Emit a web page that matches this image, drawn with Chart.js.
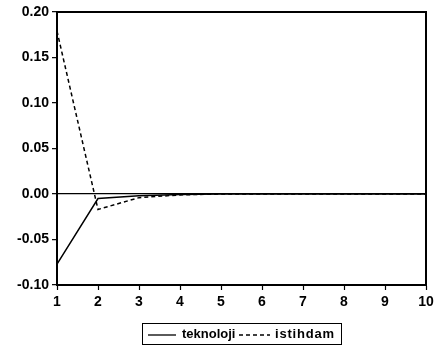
<!DOCTYPE html>
<html>
<head>
<meta charset="utf-8">
<script src="https://cdn.jsdelivr.net/npm/chart.js@4.4.1/dist/chart.umd.min.js"></script>
<style>
  html, body { margin: 0; padding: 0; background: #fff; }
  #wrap { position: relative; width: 441px; height: 355px; }
  #legend {
    position: absolute; left: 142px; top: 323px; width: 200px; height: 22px;
    border: 1.5px solid #000; box-sizing: border-box;
    font: bold 13px "Liberation Sans", Arial, sans-serif; color: #000;
  }
  #legend svg { position: absolute; left: 0; top: 0; }
  #legend span { position: absolute; top: 1px; line-height: 17px; }
</style>
</head>
<body>
<div id="wrap">
  <canvas id="c" width="441" height="355"></canvas>
  <div id="legend">
    <svg width="200" height="22">
      <line x1="5" y1="11" x2="33" y2="11" stroke="#000" stroke-width="1.3"/>
      <line x1="96" y1="11" x2="127" y2="11" stroke="#000" stroke-width="1.3" stroke-dasharray="4,3"/>
    </svg>
    <span id="l1" style="left:39px">teknoloji</span>
    <span id="l2" style="left:132px; letter-spacing:0.8px">istihdam</span>
  </div>
</div>
<script>
const categories = ["1", "2", "3", "4", "5", "6", "7", "8", "9", "10"];
const seriesNames = ["teknoloji", "istihdam"];
const teknoloji = [-0.077, -0.005, -0.002, -0.0005, 0, 0, 0, 0, 0, 0];
const istihdam  = [0.179, -0.017, -0.004, -0.001, 0, 0, 0, 0, 0, 0];
const yTicks = [-0.10, -0.05, 0.00, 0.05, 0.10, 0.15, 0.20];

const frame = {
  id: 'frame',
  afterDraw(chart) {
    const a = chart.chartArea, ctx = chart.ctx;
    ctx.save();
    ctx.strokeStyle = '#000';
    ctx.lineWidth = 2;
    ctx.strokeRect(a.left, a.top, a.right - a.left, a.bottom - a.top);
    ctx.restore();
  }
};

const font = { family: '"Liberation Sans", Arial, sans-serif', size: 14, weight: 'bold' };

new Chart(document.getElementById('c'), {
  type: 'line',
  data: {
    labels: categories,
    datasets: [
      { label: seriesNames[0], data: teknoloji, borderColor: '#000', borderWidth: 1.5,
        pointRadius: 0, tension: 0, fill: false },
      { label: seriesNames[1], data: istihdam, borderColor: '#000', borderWidth: 1.5,
        borderDash: [4, 3], pointRadius: 0, tension: 0, fill: false }
    ]
  },
  options: {
    responsive: false,
    animation: false,
    layout: { padding: { left: 0, right: 15, top: 12, bottom: 40 } },
    plugins: { legend: { display: false }, tooltip: { enabled: false } },
    scales: {
      x: {
        type: 'category',
        offset: false,
        grid: { drawOnChartArea: false, tickLength: 5, tickColor: '#000', tickWidth: 1.2 },
        border: { color: '#000', width: 2 },
        ticks: { color: '#000', font: font, padding: 4, maxRotation: 0, autoSkip: false },
        afterFit(s) { s.height = 30; }
      },
      y: {
        min: -0.10, max: 0.20,
        afterBuildTicks(s) { s.ticks = yTicks.map(v => ({ value: v })); },
        grid: {
          drawOnChartArea: true,
          color: (c) => (c.tick && Math.abs(c.tick.value) < 1e-9) ? '#000' : 'rgba(0,0,0,0)',
          lineWidth: 1.3,
          tickLength: 5, tickColor: '#000', tickWidth: 1.2
        },
        border: { color: '#000', width: 2 },
        ticks: { color: '#000', font: font, padding: 3,
          callback: (v) => Number(v).toFixed(2) },
        afterFit(s) { s.width = 57; }
      }
    }
  },
  plugins: [frame]
});
</script>
</body>
</html>
